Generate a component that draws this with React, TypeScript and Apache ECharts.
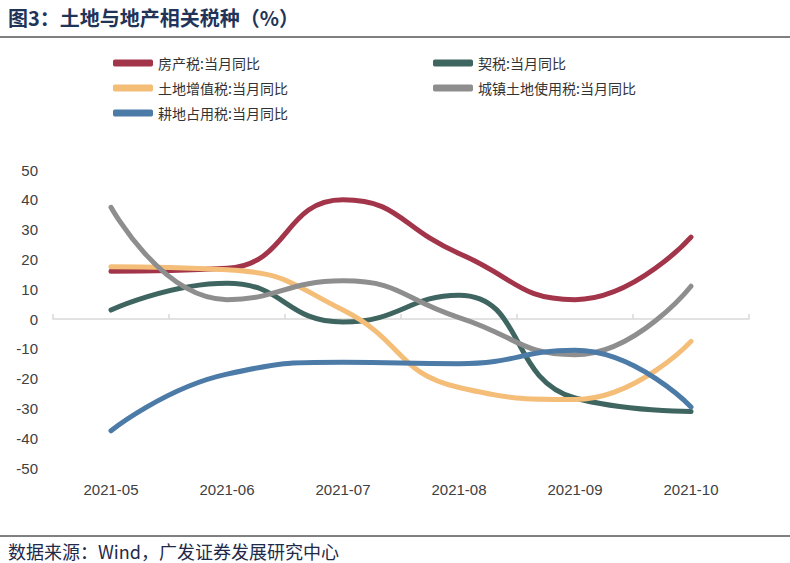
import React, { useEffect, useRef } from "react";
import * as echarts from "echarts";

const categories = ["2021-05", "2021-06", "2021-07", "2021-08", "2021-09", "2021-10"];
const seriesNames = [
  "房产税:当月同比",
  "契税:当月同比",
  "土地增值税:当月同比",
  "城镇土地使用税:当月同比",
  "耕地占用税:当月同比",
];
const fangchan = [16, 17, 40, 22, 6.5, 27.5];
const qishui = [3, 12, -1, 8, -26.5, -31];
const tudizengzhi = [17.5, 16.5, 3, -23, -27, -7.5];
const chengzhen = [37.5, 6.5, 12.8, 0.5, -12, 11];
const gengdi = [-37.5, -18.5, -14.5, -15, -10.5, -29.5];
const seriesValues = [fangchan, qishui, tudizengzhi, chengzhen, gengdi];
const colors = ["#A3354A", "#3E6560", "#F4BD78", "#8E8E8E", "#4C7BA8"];
const yTicks = { min: -50, max: 50, interval: 10 };

const legendPos = [
  { left: 113, top: 56 },
  { left: 433, top: 56 },
  { left: 113, top: 81 },
  { left: 433, top: 81 },
  { left: 113, top: 106 },
];

export default function App() {
  const ref = useRef<HTMLDivElement>(null);
  useEffect(() => {
    document.body.style.margin = "0";
    const chart = echarts.init(ref.current!, null, { renderer: "svg" });
    const cjk = "'Noto Sans CJK SC', sans-serif";
    const num = "'Liberation Sans', Arial, sans-serif";
    chart.setOption({
      animation: false,
      backgroundColor: "#ffffff",
      graphic: [
        {
          type: "text",
          left: 8,
          top: 7,
          style: {
            text: "图3：土地与地产相关税种（%）",
            font: "bold 20px " + cjk,
            fill: "#1F3458",
          },
        },
        {
          type: "line",
          shape: { x1: 0, y1: 37, x2: 790, y2: 37 },
          style: { stroke: "#000000", lineWidth: 1 },
        },
        {
          type: "line",
          shape: { x1: 0, y1: 536, x2: 790, y2: 536 },
          style: { stroke: "#000000", lineWidth: 1 },
        },
        {
          type: "text",
          left: 8,
          top: 542,
          style: {
            text: "数据来源：Wind，广发证券发展研究中心",
            font: "18px " + cjk,
            fill: "#1F2A4A",
          },
        },
      ],
      legend: seriesNames.map((n, i) => ({
        data: [n],
        left: legendPos[i].left,
        top: legendPos[i].top,
        padding: 0,
        icon: "roundRect",
        itemWidth: 40,
        itemHeight: 7,
        itemGap: 4,
        textStyle: { fontFamily: cjk, fontSize: 14, color: "#333333" },
      })),
      grid: { left: 53, right: 41, top: 170, bottom: 95 },
      xAxis: [
        {
          type: "category",
          data: categories,
          position: "bottom",
          axisLine: { show: false, onZero: false },
          axisTick: { show: false },
          axisLabel: { fontFamily: num, fontSize: 15, color: "#404040", margin: 14 },
        },
        {
          type: "category",
          data: categories,
          position: "bottom",
          axisLine: { show: true, onZero: true, lineStyle: { color: "#D9D9D9", width: 1.5 } },
          axisTick: { show: true, inside: true, length: 5, lineStyle: { color: "#D9D9D9", width: 1.5 } },
          axisLabel: { show: false },
        },
      ],
      yAxis: {
        type: "value",
        min: yTicks.min,
        max: yTicks.max,
        interval: yTicks.interval,
        axisLine: { show: false },
        axisTick: { show: false },
        splitLine: { show: false },
        axisLabel: { fontFamily: num, fontSize: 15, color: "#404040", margin: 15 },
      },
      series: seriesNames.map((n, i) => ({
        name: n,
        type: "line",
        xAxisIndex: 0,
        data: seriesValues[i],
        smooth: 0.5,
        symbol: "none",
        lineStyle: { color: colors[i], width: 5, cap: "round" },
        itemStyle: { color: colors[i] },
      })),
    });
    return () => chart.dispose();
  }, []);
  return <div ref={ref} style={{ width: 790, height: 563 }} />;
}
